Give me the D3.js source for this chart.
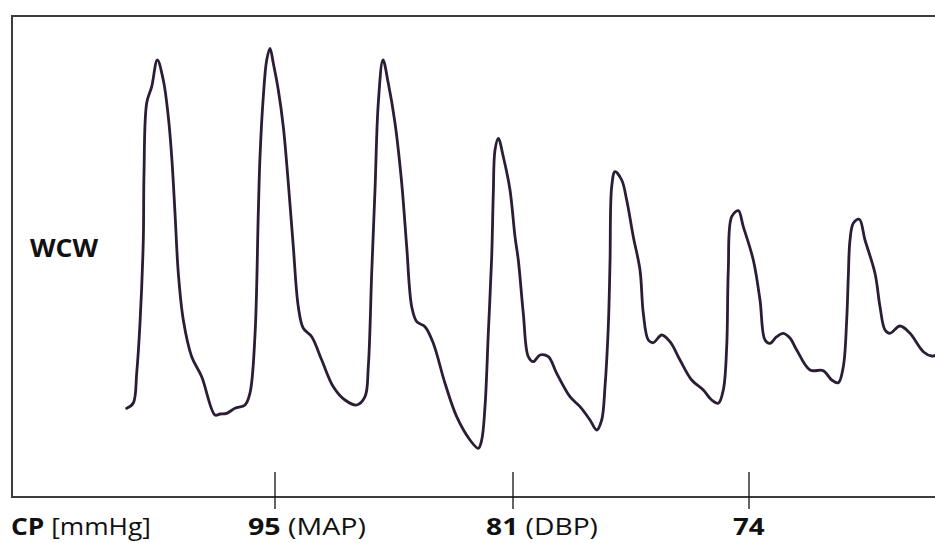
<!DOCTYPE html>
<html>
<head>
<meta charset="utf-8">
<script src="https://cdn.jsdelivr.net/npm/d3@7"></script>
<style>
  html, body { margin: 0; padding: 0; background: #ffffff; }
  svg { display: block; }
</style>
</head>
<body>
<svg id="chart" width="935" height="543"></svg>
<script>
// ---- data ----
// time (arbitrary units along the trace) and WCW amplitude (arbitrary units)
const waveTime = [
  114.7,121.3,124.7,128,131.3,132,134.7,139.7,145.3,151.3,
  156.3,159.7,163,166.3,171.3,179.7,189.7,203,208,214.7,
  223,233,238,243,246.3,248,251.3,254.7,258,261.3,
  266.3,271.3,276.3,281.3,286.3,291.3,299.7,309.7,321.3,333,
  344.7,353,356.3,359.7,363,366.3,371,376.3,383,389.7,
  394.7,399.7,404.7,413,421.3,433,444.7,458,466.3,469.7,
  473,476.3,479.7,481.3,483,486.3,491.3,498,503,506.3,
  511.3,516.3,521.3,528,536.3,544.7,558,568,578,584.7,
  589.7,593,596.3,598,599.7,603,609.7,614.7,621.3,628,
  631.3,636.3,641.3,649.7,658,668,679.7,691.3,699.7,706.3,
  711.3,714.7,716.3,719.7,726.3,731.3,741.3,748,753,758,
  764.7,771.3,778,784.7,798,811.3,819.7,826.3,831.3,834.7,
  836.3,838,841.3,847.3,853,863,868,873,878,888,
  898,911.3,919.7,924
];
const waveAmp = [
  88.7,94,124,174,257,324,394,410.3,437,417,
  380.3,340.3,284,224,177,140.3,120.3,82,83,83.7,
  88.7,92,104,162,284,340.3,400.3,437,448.7,433.7,
  407,370.3,314,250.3,190.3,168.7,160.3,137,110.3,97,
  92,100.3,130.3,224,307,394,437,413.7,374,314,
  250.3,190.3,175.3,170.3,153.7,113.7,80.3,57,48.7,57,
  90.3,163.7,240.3,303.7,347,358.7,340.3,307,260.3,237,
  183.7,140.3,135.3,142,140.3,123.7,100.3,90.3,77,67,
  77,110.3,170.3,233.7,310.3,325.3,317,297,260.3,227,
  183.7,157,154.3,162,155.3,137,117,107,97,93.7,
  107,150.3,227,280.3,286.3,270.3,237,197,157,153.7,
  160.3,163.7,159,147,127,126.3,117,114.3,130.3,177,
  220.3,257,273.7,277.7,257,223.7,190.3,167,163.7,171,
  163.7,145.3,141,142
];
// CP markers on the time axis
const cpTime   = [263, 501, 737];
const cpValue  = ["95", "81", "74"];
const cpNote   = ["(MAP)", "(DBP)", ""];
const axisTitleBold = "CP";
const axisTitleUnit = "[mmHg]";
const yLabel = "WCW";

// ---- layout ----
const plotL = 12, plotT = 16, plotR = 935, plotB = 497;
const svg = d3.select("#chart");

const x = d3.scaleLinear().domain([0, 923]).range([plotL, plotR]);
const y = d3.scaleLinear().domain([0, 481]).range([plotB, plotT]);

const frameColor = "#3c3c3c";
const traceColor = "#2a1d35";
const font = "'Open Sans', 'Noto Sans', sans-serif";

// frame: top, left, bottom (open on the right)
svg.append("path")
  .attr("d", `M${plotR},${plotT}H${plotL}V${plotB}H${plotR}`)
  .attr("fill", "none")
  .attr("stroke", frameColor)
  .attr("stroke-width", 2);

// CP tick marks crossing the bottom line
svg.append("g").selectAll("line")
  .data(cpTime)
  .join("line")
  .attr("x1", d => x(d)).attr("x2", d => x(d))
  .attr("y1", plotB - 25).attr("y2", plotB + 12)
  .attr("stroke", "#111")
  .attr("stroke-width", 1.3);

// waveform
const wave = waveTime.map((t, i) => ({ t, a: waveAmp[i] }));
const line = d3.line()
  .x(d => x(d.t))
  .y(d => y(d.a))
  .curve(d3.curveCatmullRom.alpha(0.5));

svg.append("path")
  .datum(wave)
  .attr("d", line)
  .attr("fill", "none")
  .attr("stroke", traceColor)
  .attr("stroke-width", 2.8)
  .attr("stroke-linejoin", "round")
  .attr("stroke-linecap", "round");

// helper: fit a text element horizontally into [x0, x0+w]
function fit(textSel, x0, w, baseline) {
  const bb = textSel.node().getBBox();
  const sx = w / bb.width;
  textSel.attr("transform", `translate(${x0 - bb.x * sx},${baseline}) scale(${sx},1)`);
}

// y label
const wcw = svg.append("text")
  .attr("font-family", font)
  .attr("font-weight", "bold")
  .attr("font-size", 25)
  .attr("fill", "#111")
  .text(yLabel);
fit(wcw, 30, 69, 257);

// axis title
const cp = svg.append("text")
  .attr("font-family", font)
  .attr("font-size", 24)
  .attr("fill", "#111");
cp.append("tspan").attr("font-weight", "bold").text(axisTitleBold);
cp.append("tspan").text(" " + axisTitleUnit);
fit(cp, 11, 140, 535);

// tick labels
cpTime.forEach((t, i) => {
  const tx = svg.append("text")
    .attr("font-family", font)
    .attr("font-size", 24)
    .attr("fill", "#111");
  tx.append("tspan").attr("font-weight", "bold").text(cpValue[i]);
  if (cpNote[i]) tx.append("tspan").text(" " + cpNote[i]);
  if (cpNote[i]) {
    fit(tx, x(t) - 27, cpNote[i] === "(MAP)" ? 118 : 112, 535);
  } else {
    fit(tx, x(t) - 16, 32, 535);
  }
});
</script>
</body>
</html>
